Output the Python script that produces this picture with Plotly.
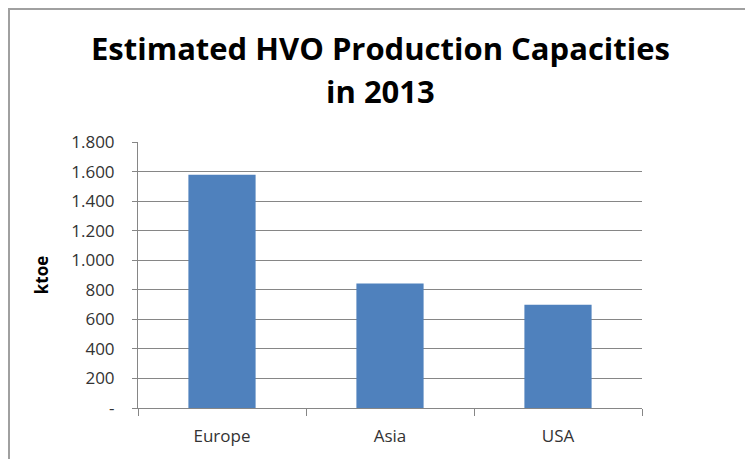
import plotly.graph_objects as go

regions = ["Europe", "Asia", "USA"]
capacity = [1578, 842, 698]
ytick_vals = [0, 200, 400, 600, 800, 1000, 1200, 1400, 1600, 1800]
ytick_text = ["-", "200", "400", "600", "800", "1.000", "1.200", "1.400", "1.600", "1.800"]
title_lines = ["Estimated HVO Production Capacities", "in 2013"]

# page body adds an 8px offset, so the figure is drawn 8px smaller
W, H = 745, 451
L, R, T, B = 130, 111, 134, 51
pw, ph = W - L - R, H - T - B

def px_x(px):
    return (px - L) / pw

def px_y(py):
    return (H - B - py) / ph

fig = go.Figure(go.Bar(
    x=regions, y=capacity,
    marker=dict(color="#4F81BD", line=dict(width=0)),
))

fig.update_layout(
    width=W, height=H,
    margin=dict(l=L, r=R, t=T, b=B, autoexpand=False),
    paper_bgcolor="white", plot_bgcolor="white",
    bargap=0.6,
    showlegend=False,
    font=dict(family="Open Sans, sans-serif", color="#404040", size=17),
    xaxis=dict(
        showline=True, linecolor="#868686", linewidth=1,
        ticks="outside", tickson="boundaries", ticklen=7, tickcolor="#868686",
        showgrid=False, ticklabelstandoff=13,
        tickfont=dict(size=17, color="#333333"),
    ),
    yaxis=dict(
        range=[0, 1800], tickvals=ytick_vals, ticktext=ytick_text,
        showline=True, linecolor="#868686", linewidth=1,
        ticks="outside", ticklen=5, tickcolor="#868686",
        showgrid=True, gridcolor="#868686", gridwidth=1,
        zeroline=False, ticklabelstandoff=14,
        tickfont=dict(size=17, color="#333333"),
        title=dict(text="<b>ktoe</b>", standoff=18, font=dict(size=17, color="black")),
    ),
    shapes=[dict(
        type="rect", xref="paper", yref="paper",
        x0=px_x(1), x1=px_x(W + 10),
        y0=px_y(H + 10), y1=px_y(1),
        line=dict(color="#a0a0a0", width=2), layer="below",
    )],
)

for text, cy in zip(title_lines, [40, 83]):
    fig.add_annotation(
        text="<b>" + text + "</b>", xref="paper", yref="paper",
        x=px_x(372), y=px_y(cy), xanchor="center", yanchor="middle",
        showarrow=False, font=dict(size=31, color="black", family="Open Sans, sans-serif"),
    )

fig.write_html("out.html")
